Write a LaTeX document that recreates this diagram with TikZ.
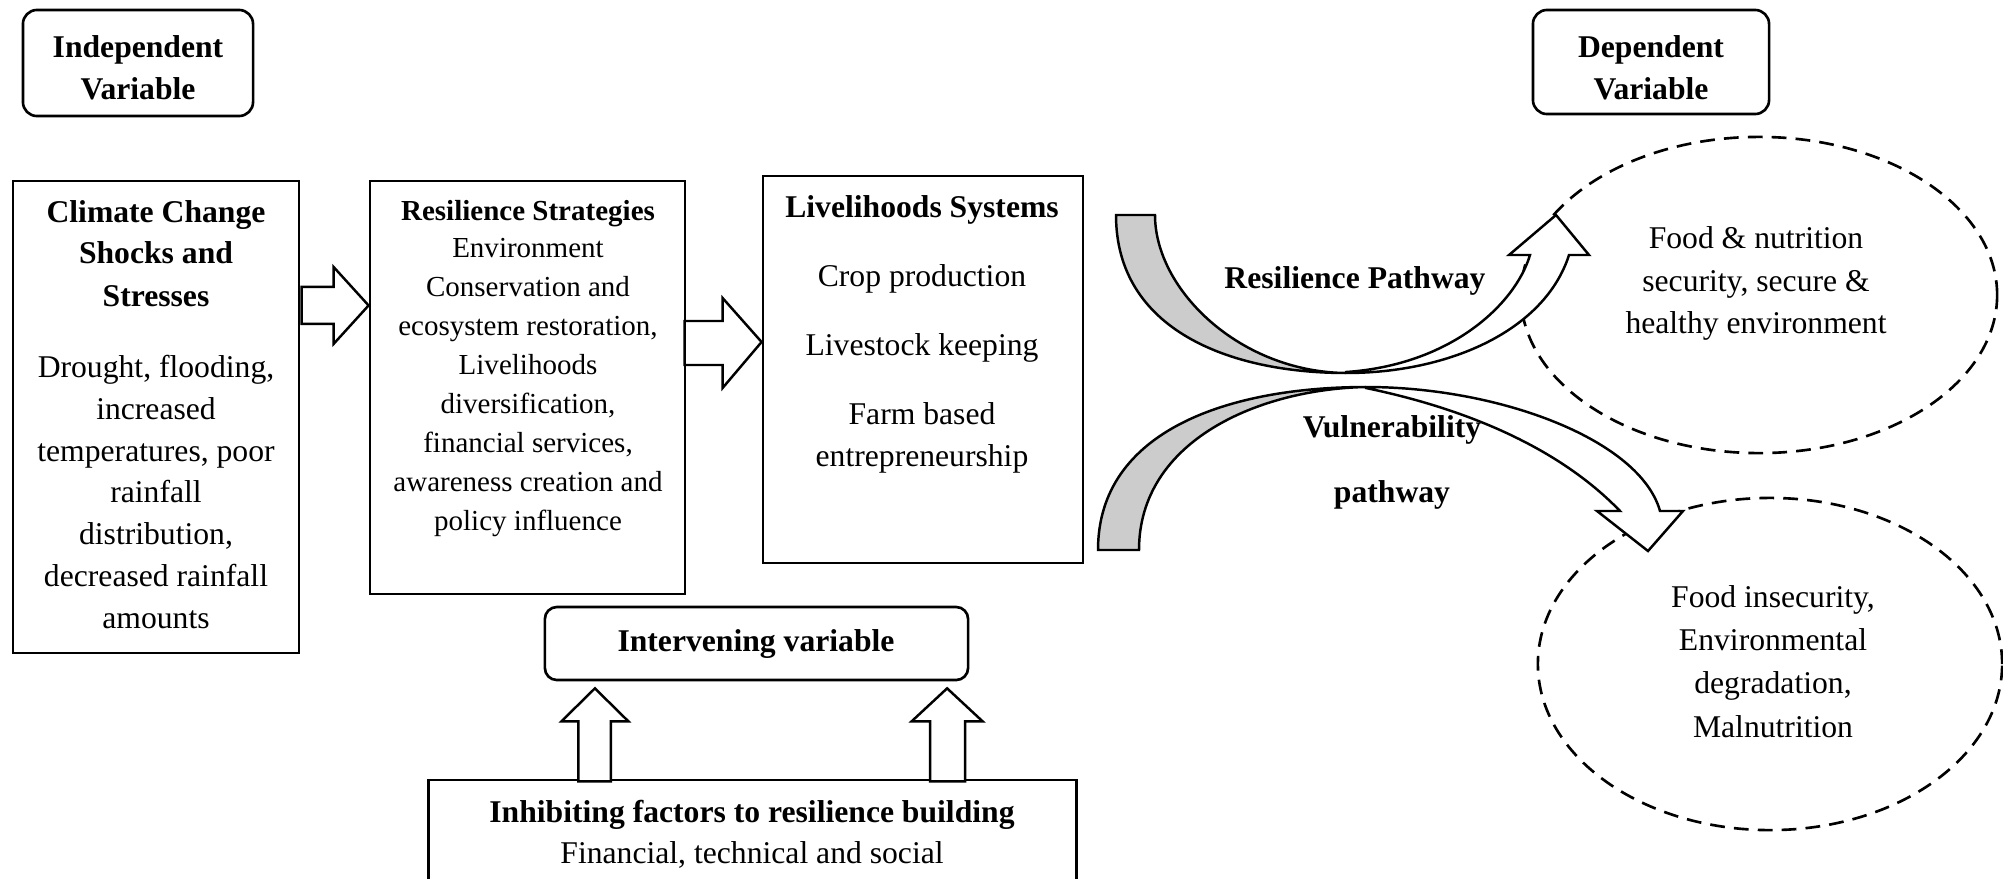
\documentclass[tikz,border=0pt]{standalone}
\usepackage{fontspec}
\setmainfont{Liberation Serif}
\usetikzlibrary{shapes.geometric,calc}
\definecolor{pathgray}{RGB}{204,204,204}
\begin{document}
\begin{tikzpicture}[x=0.01cm,y=-0.01cm,
  box/.style={draw,line width=0.75pt,inner sep=0pt},
  rbox/.style={box,rounded corners=0.14cm},
  oval/.style={ellipse,draw,line width=0.75pt,dash pattern=on 4.2pt off 2.6pt,inner sep=0pt},
  barrow/.style={draw,fill=white,line width=0.7pt,line join=miter},
  carrow/.style={draw,line width=0.7pt},
  t/.style={anchor=base,inner sep=0pt,yshift=-0.027cm,font=\fontsize{9}{12}\selectfont},
  tb/.style={anchor=base,inner sep=0pt,yshift=-0.027cm,font=\fontsize{9}{12}\selectfont\bfseries},
  ts/.style={anchor=base,inner sep=0pt,yshift=-0.027cm,font=\fontsize{8.25}{11}\selectfont},
  tsb/.style={anchor=base,inner sep=0pt,yshift=-0.027cm,font=\fontsize{8.25}{11}\selectfont\bfseries},
]
\useasboundingbox (0,0) rectangle (2003,878);

% ---------- boxes ----------
\node[rbox,minimum width=2.30cm,minimum height=1.06cm] (indep) at (138,63) {};
\node[rbox,minimum width=2.36cm,minimum height=1.04cm] (dep) at (1651,62) {};
\node[box,minimum width=2.86cm,minimum height=4.72cm] (clim) at (156,417) {};
\node[box,minimum width=3.15cm,minimum height=4.13cm] (res) at (527.5,387.5) {};
\node[box,minimum width=3.20cm,minimum height=3.87cm] (live) at (923,369.5) {};
\node[rbox,rounded corners=0.12cm,minimum width=4.23cm,minimum height=0.73cm] (int) at (756.5,643.5) {};
\node[box,minimum width=6.47cm,minimum height=1.2cm] (inh) at (752.5,840) {};
\node[oval,minimum width=4.76cm,minimum height=3.16cm] (good) at (1759,295) {};
\node[oval,minimum width=4.64cm,minimum height=3.32cm] (bad) at (1770,664) {};

% ---------- texts ----------
\node[tb] (indepA) at (138,55) {Independent};
\node[tb] (indepB) at (138,97) {Variable};
\node[tb] (depA) at (1651,55) {Dependent};
\node[tb] (depB) at (1651,97) {Variable};

\node[tb] (climA) at (156,220) {Climate Change};
\node[tb] (climB) at (156,261) {Shocks and};
\node[tb] (climC) at (156,304) {Stresses};
\node[t] (clim1) at (156,375) {Drought, flooding,};
\node[t] (clim2) at (156,417) {increased};
\node[t] (clim3) at (156,459) {temperatures, poor};
\node[t] (clim4) at (156,500) {rainfall};
\node[t] (clim5) at (156,542) {distribution,};
\node[t] (clim6) at (156,584) {decreased rainfall};
\node[t] (clim7) at (156,626) {amounts};

\node[tsb] (resA) at (528,218) {Resilience Strategies};
\node[ts] (res1) at (528,255) {Environment};
\node[ts] (res2) at (528,294) {Conservation and};
\node[ts] (res3) at (528,333) {ecosystem restoration,};
\node[ts] (res4) at (528,372) {Livelihoods};
\node[ts] (res5) at (528,411) {diversification,};
\node[ts] (res6) at (528,450) {financial services,};
\node[ts] (res7) at (528,489) {awareness creation and};
\node[ts] (res8) at (528,528) {policy influence};

\node[tb] (liveA) at (922,215) {Livelihoods Systems};
\node[t] (live1) at (922,284) {Crop production};
\node[t] (live2) at (922,353) {Livestock keeping};
\node[t] (live3) at (922,422) {Farm based};
\node[t] (live4) at (922,464) {entrepreneurship};

\node[tb] (intA) at (756,649) {Intervening variable};
\node[tb] (inhA) at (752,820) {Inhibiting factors to resilience building};
\node[t] (inh1) at (752,861) {Financial, technical and social};

\node[t] (good1) at (1756,246) {Food \& nutrition};
\node[t] (good2) at (1756,289) {security, secure \&};
\node[t] (good3) at (1756,331) {healthy environment};

\node[t] (bad1) at (1773,605) {Food insecurity,};
\node[t] (bad2) at (1773,648) {Environmental};
\node[t] (bad3) at (1773,691) {degradation,};
\node[t] (bad4) at (1773,735) {Malnutrition};

% ---------- block arrows ----------
\draw[barrow] ([yshift=0.82cm]res.west) -- ++(-35,-38.5) -- ++(0,20) -- ++(-32,0)
   -- ++(0,37) -- ++(32,0) -- ++(0,20) -- cycle;
\draw[barrow] ([yshift=0.275cm]live.west) -- ++(-39,-44) -- ++(0,23) -- ++(-38,0)
   -- ++(0,44) -- ++(38,0) -- ++(0,23) -- cycle;
\draw[barrow] ([xshift=-1.615cm,yshift=-0.07cm]int.south) -- ++(33.5,33) -- ++(-17.5,0)
   -- ++(0,60) -- ++(-32.5,0) -- ++(0,-60) -- ++(-17,0) -- cycle;
\draw[barrow] ([xshift=1.905cm,yshift=-0.07cm]int.south) -- ++(35.5,33) -- ++(-17.5,0)
   -- ++(0,60) -- ++(-35,0) -- ++(0,-60) -- ++(-18.5,0) -- cycle;

% ---------- curved pathway arrows ----------
\draw[carrow,fill=pathgray] (1116,215) .. controls (1116,330) and (1230,373) .. (1346,373)
   .. controls (1240,372) and (1155,290) .. (1155,215) -- cycle;
\draw[carrow,fill=white] (1346,373) .. controls (1450,373) and (1545,330) .. (1569,255)
   -- (1589,255) -- (1556,215) -- (1509,255) -- (1530,255)
   .. controls (1515,305) and (1450,365) .. (1346,372) -- cycle;

\draw[carrow,fill=pathgray] (1098,550) .. controls (1098,430) and (1230,387) .. (1366,387)
   .. controls (1260,389) and (1139,440) .. (1139,550) -- cycle;
\draw[carrow,fill=white] (1366,387) .. controls (1500,387) and (1640,440) .. (1660,511)
   -- (1683,511) -- (1648,551) -- (1597,511) -- (1620,511)
   .. controls (1590,480) and (1520,420) .. (1366,388) -- cycle;

\node[tb] (resP) at (1355,286) {Resilience Pathway};
\node[tb] (vulA) at (1392,435) {Vulnerability};
\node[tb] (vulB) at (1392,500) {pathway};
\end{tikzpicture}
\end{document}
